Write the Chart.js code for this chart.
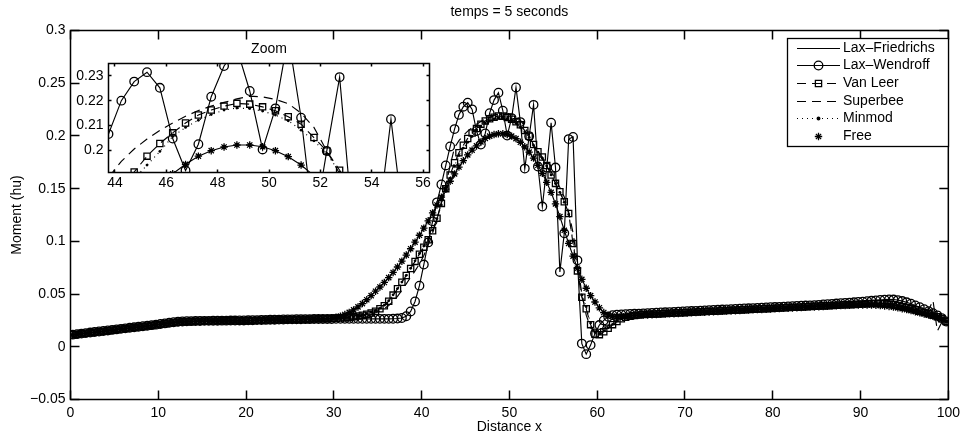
<!DOCTYPE html>
<html><head><meta charset="utf-8">
<script src="https://cdn.jsdelivr.net/npm/chart.js@4.4.1/dist/chart.umd.min.js"></script>
<style>
html,body{margin:0;padding:0;background:#fff;}
#wrap{position:relative;width:965px;height:441px;overflow:hidden;}
#main{position:absolute;left:0;top:0;}
#zoom{position:absolute;left:72px;top:36px;}
</style></head><body>
<div id="wrap"><canvas id="main" width="965" height="441"></canvas><canvas id="zoom" width="380" height="164"></canvas></div>
<script>
// ---------- data ----------
const titleText = 'temps = 5 seconds';
const zoomTitle = 'Zoom';
const xLabel = 'Distance x';
const yLabel = 'Moment (hu)';
const seriesNames = ['Lax\u2013Friedrichs', 'Lax\u2013Wendroff', 'Van Leer', 'Superbee', 'Minmod', 'Free'];
const xTicks = [0, 10, 20, 30, 40, 50, 60, 70, 80, 90, 100];
const yTicks = [-0.05, 0, 0.05, 0.1, 0.15, 0.2, 0.25, 0.3];
const zoomXTicks = [44, 46, 48, 50, 52, 54, 56];
const zoomYTicks = [0.2, 0.21, 0.22, 0.23];

const distance = [
0.25,0.75,1.25,1.75,2.25,2.75,3.25,3.75,4.25,4.75,
5.25,5.75,6.25,6.75,7.25,7.75,8.25,8.75,9.25,9.75,
10.25,10.75,11.25,11.75,12.25,12.75,13.25,13.75,14.25,14.75,
15.25,15.75,16.25,16.75,17.25,17.75,18.25,18.75,19.25,19.75,
20.25,20.75,21.25,21.75,22.25,22.75,23.25,23.75,24.25,24.75,
25.25,25.75,26.25,26.75,27.25,27.75,28.25,28.75,29.25,29.75,
30.25,30.75,31.25,31.75,32.25,32.75,33.25,33.75,34.25,34.75,
35.25,35.75,36.25,36.75,37.25,37.75,38.25,38.75,39.25,39.75,
40.25,40.75,41.25,41.75,42.25,42.75,43.25,43.75,44.25,44.75,
45.25,45.75,46.25,46.75,47.25,47.75,48.25,48.75,49.25,49.75,
50.25,50.75,51.25,51.75,52.25,52.75,53.25,53.75,54.25,54.75,
55.25,55.75,56.25,56.75,57.25,57.75,58.25,58.75,59.25,59.75,
60.25,60.75,61.25,61.75,62.25,62.75,63.25,63.75,64.25,64.75,
65.25,65.75,66.25,66.75,67.25,67.75,68.25,68.75,69.25,69.75,
70.25,70.75,71.25,71.75,72.25,72.75,73.25,73.75,74.25,74.75,
75.25,75.75,76.25,76.75,77.25,77.75,78.25,78.75,79.25,79.75,
80.25,80.75,81.25,81.75,82.25,82.75,83.25,83.75,84.25,84.75,
85.25,85.75,86.25,86.75,87.25,87.75,88.25,88.75,89.25,89.75,
90.25,90.75,91.25,91.75,92.25,92.75,93.25,93.75,94.25,94.75,
95.25,95.75,96.25,96.75,97.25,97.75,98.25,98.75,99.25,99.75];

const momentLaxFriedrichs = [
0.0112,0.0117,0.0122,0.0127,0.0132,0.0137,0.0142,0.0147,0.0152,0.0157,
0.0162,0.0167,0.0172,0.0177,0.0182,0.0187,0.0192,0.0197,0.0202,0.0207,
0.0212,0.0217,0.0222,0.0227,0.0231,0.0234,0.0237,0.0239,0.0240,0.0241,
0.0242,0.0242,0.0243,0.0243,0.0244,0.0244,0.0245,0.0245,0.0246,0.0246,
0.0247,0.0248,0.0249,0.0250,0.0251,0.0252,0.0253,0.0254,0.0255,0.0256,
0.0257,0.0258,0.0259,0.0260,0.0261,0.0262,0.0264,0.0266,0.0268,0.0273,
0.0280,0.0291,0.0306,0.0326,0.0350,0.0378,0.0410,0.0446,0.0485,0.0527,
0.0567,0.0610,0.0656,0.0705,0.0757,0.0812,0.0870,0.0930,0.0993,0.1058,
0.1125,0.1195,0.1270,0.1345,0.1420,0.1495,0.1570,0.1640,0.1705,0.1765,
0.1820,0.1865,0.1905,0.1943,0.1976,0.1998,0.2013,0.2021,0.2021,0.2014,
0.1998,0.1974,0.1940,0.1897,0.1847,0.1790,0.1722,0.1645,0.1560,0.1465,
0.1355,0.1235,0.1105,0.0980,0.0860,0.0745,0.0640,0.0555,0.0485,0.0425,
0.0370,0.0325,0.0300,0.0290,0.0288,0.0290,0.0292,0.0294,0.0296,0.0298,
0.0300,0.0302,0.0304,0.0306,0.0308,0.0310,0.0312,0.0314,0.0316,0.0318,
0.0320,0.0322,0.0324,0.0326,0.0328,0.0330,0.0332,0.0334,0.0336,0.0338,
0.0340,0.0342,0.0344,0.0346,0.0348,0.0350,0.0352,0.0354,0.0356,0.0358,
0.0360,0.0362,0.0364,0.0366,0.0368,0.0370,0.0372,0.0374,0.0376,0.0378,
0.0380,0.0382,0.0384,0.0386,0.0388,0.0390,0.0392,0.0394,0.0395,0.0396,
0.0397,0.0397,0.0396,0.0394,0.0391,0.0387,0.0382,0.0376,0.0369,0.0361,
0.0352,0.0343,0.0333,0.0322,0.0311,0.0300,0.0289,0.0277,0.0262,0.0240];

const momentLaxWendroff = [
0.0115,0.0120,0.0125,0.0130,0.0135,0.0140,0.0145,0.0150,0.0155,0.0160,
0.0165,0.0170,0.0175,0.0180,0.0185,0.0190,0.0195,0.0200,0.0205,0.0210,
0.0216,0.0222,0.0228,0.0233,0.0237,0.0240,0.0242,0.0243,0.0244,0.0245,
0.0246,0.0246,0.0247,0.0247,0.0248,0.0248,0.0249,0.0249,0.0250,0.0250,
0.0251,0.0252,0.0253,0.0254,0.0255,0.0256,0.0257,0.0258,0.0259,0.0260,
0.0260,0.0261,0.0261,0.0262,0.0262,0.0263,0.0263,0.0264,0.0264,0.0264,
0.0265,0.0265,0.0265,0.0265,0.0265,0.0265,0.0265,0.0265,0.0265,0.0265,
0.0265,0.0265,0.0265,0.0266,0.0268,0.0273,0.0290,0.0335,0.0430,0.0580,
0.0780,0.0990,0.1190,0.1370,0.1540,0.1720,0.1900,0.2065,0.2200,0.2277,
0.2315,0.2252,0.2047,0.1918,0.2024,0.2216,0.2340,0.2410,0.2239,0.2003,
0.2169,0.2460,0.2131,0.1690,0.1997,0.2295,0.1710,0.1330,0.1700,0.2125,
0.1700,0.0710,0.1076,0.1970,0.1990,0.0820,0.0030,-0.0070,0.0016,0.0127,
0.0206,0.0250,0.0285,0.0300,0.0305,0.0307,0.0309,0.0311,0.0313,0.0315,
0.0317,0.0319,0.0321,0.0323,0.0325,0.0327,0.0329,0.0331,0.0333,0.0335,
0.0337,0.0339,0.0341,0.0343,0.0345,0.0347,0.0349,0.0351,0.0353,0.0355,
0.0357,0.0359,0.0361,0.0363,0.0365,0.0367,0.0369,0.0371,0.0373,0.0375,
0.0377,0.0379,0.0381,0.0383,0.0385,0.0387,0.0389,0.0391,0.0393,0.0395,
0.0398,0.0401,0.0404,0.0407,0.0410,0.0413,0.0416,0.0419,0.0422,0.0425,
0.0428,0.0432,0.0436,0.0440,0.0444,0.0447,0.0449,0.0448,0.0443,0.0434,
0.0422,0.0408,0.0392,0.0375,0.0357,0.0338,0.0318,0.0298,0.0272,0.0240];

const momentVanLeer = [
0.0113,0.0118,0.0123,0.0128,0.0133,0.0138,0.0143,0.0148,0.0153,0.0158,
0.0163,0.0168,0.0173,0.0178,0.0183,0.0188,0.0193,0.0198,0.0203,0.0208,
0.0213,0.0219,0.0225,0.0230,0.0234,0.0237,0.0239,0.0241,0.0242,0.0243,
0.0244,0.0244,0.0245,0.0245,0.0246,0.0246,0.0247,0.0247,0.0248,0.0248,
0.0249,0.0250,0.0251,0.0252,0.0253,0.0254,0.0255,0.0256,0.0257,0.0258,
0.0259,0.0260,0.0261,0.0262,0.0263,0.0264,0.0265,0.0266,0.0267,0.0268,
0.0270,0.0272,0.0275,0.0279,0.0284,0.0291,0.0299,0.0309,0.0321,0.0337,
0.0360,0.0390,0.0432,0.0490,0.0550,0.0612,0.0676,0.0742,0.0810,0.0878,
0.0945,0.1015,0.1100,0.1220,0.1360,0.1500,0.1630,0.1745,0.1840,0.1912,
0.1976,0.2027,0.2070,0.2110,0.2142,0.2162,0.2178,0.2189,0.2186,0.2175,
0.2159,0.2135,0.2105,0.2051,0.1997,0.1919,0.1850,0.1800,0.1720,0.1630,
0.1550,0.1470,0.1376,0.1265,0.0980,0.0720,0.0470,0.0360,0.0210,0.0120,
0.0115,0.0143,0.0175,0.0210,0.0240,0.0265,0.0280,0.0290,0.0297,0.0302,
0.0306,0.0308,0.0310,0.0312,0.0314,0.0316,0.0318,0.0320,0.0322,0.0324,
0.0326,0.0328,0.0330,0.0332,0.0334,0.0336,0.0338,0.0340,0.0342,0.0344,
0.0346,0.0348,0.0350,0.0352,0.0354,0.0356,0.0358,0.0360,0.0362,0.0364,
0.0366,0.0368,0.0370,0.0372,0.0374,0.0376,0.0378,0.0380,0.0382,0.0384,
0.0386,0.0388,0.0390,0.0392,0.0394,0.0396,0.0398,0.0400,0.0402,0.0404,
0.0406,0.0408,0.0410,0.0411,0.0411,0.0409,0.0405,0.0399,0.0391,0.0382,
0.0372,0.0361,0.0350,0.0338,0.0326,0.0313,0.0300,0.0285,0.0265,0.0240];

const momentSuperbee = [
0.0113,0.0118,0.0123,0.0128,0.0133,0.0138,0.0143,0.0148,0.0153,0.0158,
0.0163,0.0168,0.0173,0.0178,0.0183,0.0188,0.0193,0.0198,0.0203,0.0208,
0.0213,0.0219,0.0225,0.0230,0.0234,0.0237,0.0239,0.0241,0.0242,0.0243,
0.0244,0.0244,0.0245,0.0245,0.0246,0.0246,0.0247,0.0247,0.0248,0.0248,
0.0249,0.0250,0.0251,0.0252,0.0253,0.0254,0.0255,0.0256,0.0257,0.0258,
0.0259,0.0260,0.0261,0.0262,0.0263,0.0264,0.0265,0.0266,0.0267,0.0268,
0.0269,0.0270,0.0272,0.0275,0.0279,0.0284,0.0291,0.0300,0.0311,0.0324,
0.0340,0.0362,0.0392,0.0430,0.0478,0.0535,0.0597,0.0660,0.0720,0.0785,
0.0865,0.0965,0.1080,0.1210,0.1360,0.1530,0.1720,0.1890,0.1955,0.2005,
0.2045,0.2080,0.2110,0.2137,0.2160,0.2178,0.2193,0.2207,0.2218,0.2215,
0.2205,0.2188,0.2150,0.2092,0.1997,0.1905,0.1830,0.1780,0.1720,0.1660,
0.1590,0.1510,0.1420,0.1280,0.1080,0.0800,0.0500,0.0300,0.0180,0.0140,
0.0145,0.0170,0.0200,0.0235,0.0260,0.0275,0.0286,0.0294,0.0300,0.0304,
0.0306,0.0308,0.0310,0.0312,0.0314,0.0316,0.0318,0.0320,0.0322,0.0324,
0.0326,0.0328,0.0330,0.0332,0.0334,0.0336,0.0338,0.0340,0.0342,0.0344,
0.0346,0.0348,0.0350,0.0352,0.0354,0.0356,0.0358,0.0360,0.0362,0.0364,
0.0366,0.0368,0.0370,0.0372,0.0374,0.0376,0.0378,0.0380,0.0382,0.0384,
0.0386,0.0388,0.0390,0.0392,0.0394,0.0396,0.0398,0.0400,0.0402,0.0404,
0.0406,0.0408,0.0410,0.0411,0.0411,0.0409,0.0405,0.0399,0.0391,0.0382,
0.0372,0.0361,0.0350,0.0338,0.0326,0.0345,0.0440,0.0150,0.0230,0.0220];

const momentMinmod = [
0.0113,0.0118,0.0123,0.0128,0.0133,0.0138,0.0143,0.0148,0.0153,0.0158,
0.0163,0.0168,0.0173,0.0178,0.0183,0.0188,0.0193,0.0198,0.0203,0.0208,
0.0213,0.0219,0.0225,0.0230,0.0234,0.0237,0.0239,0.0241,0.0242,0.0243,
0.0244,0.0244,0.0245,0.0245,0.0246,0.0246,0.0247,0.0247,0.0248,0.0248,
0.0249,0.0250,0.0251,0.0252,0.0253,0.0254,0.0255,0.0256,0.0257,0.0258,
0.0259,0.0260,0.0261,0.0262,0.0263,0.0264,0.0265,0.0266,0.0267,0.0268,
0.0271,0.0274,0.0278,0.0283,0.0289,0.0297,0.0306,0.0317,0.0330,0.0345,
0.0365,0.0395,0.0437,0.0493,0.0552,0.0614,0.0678,0.0745,0.0815,0.0885,
0.0955,0.1025,0.1105,0.1215,0.1345,0.1475,0.1600,0.1715,0.1815,0.1885,
0.1940,0.1995,0.2055,0.2092,0.2121,0.2144,0.2162,0.2170,0.2168,0.2158,
0.2142,0.2119,0.2081,0.2038,0.1987,0.1910,0.1845,0.1790,0.1715,0.1630,
0.1548,0.1465,0.1370,0.1255,0.1000,0.0740,0.0490,0.0380,0.0225,0.0135,
0.0125,0.0150,0.0180,0.0212,0.0242,0.0266,0.0281,0.0291,0.0298,0.0303,
0.0306,0.0308,0.0310,0.0312,0.0314,0.0316,0.0318,0.0320,0.0322,0.0324,
0.0326,0.0328,0.0330,0.0332,0.0334,0.0336,0.0338,0.0340,0.0342,0.0344,
0.0346,0.0348,0.0350,0.0352,0.0354,0.0356,0.0358,0.0360,0.0362,0.0364,
0.0366,0.0368,0.0370,0.0372,0.0374,0.0376,0.0378,0.0380,0.0382,0.0384,
0.0386,0.0388,0.0390,0.0392,0.0394,0.0396,0.0398,0.0400,0.0402,0.0404,
0.0406,0.0408,0.0410,0.0411,0.0411,0.0409,0.0405,0.0399,0.0391,0.0382,
0.0372,0.0361,0.0350,0.0338,0.0326,0.0313,0.0300,0.0285,0.0265,0.0240];

const momentFree = [
0.0112,0.0117,0.0122,0.0127,0.0132,0.0137,0.0142,0.0147,0.0152,0.0157,
0.0162,0.0167,0.0172,0.0177,0.0182,0.0187,0.0192,0.0197,0.0202,0.0207,
0.0212,0.0217,0.0222,0.0227,0.0231,0.0234,0.0237,0.0239,0.0240,0.0241,
0.0242,0.0242,0.0243,0.0243,0.0244,0.0244,0.0245,0.0245,0.0246,0.0246,
0.0247,0.0248,0.0249,0.0250,0.0251,0.0252,0.0253,0.0254,0.0255,0.0256,
0.0257,0.0258,0.0259,0.0260,0.0261,0.0262,0.0264,0.0266,0.0268,0.0273,
0.0280,0.0291,0.0306,0.0326,0.0350,0.0378,0.0410,0.0446,0.0485,0.0527,
0.0567,0.0610,0.0656,0.0705,0.0757,0.0812,0.0870,0.0930,0.0993,0.1058,
0.1125,0.1195,0.1270,0.1345,0.1420,0.1495,0.1570,0.1640,0.1705,0.1765,
0.1820,0.1865,0.1905,0.1943,0.1976,0.1998,0.2013,0.2021,0.2021,0.2014,
0.1998,0.1974,0.1940,0.1897,0.1847,0.1790,0.1722,0.1645,0.1560,0.1465,
0.1355,0.1235,0.1105,0.0980,0.0860,0.0745,0.0640,0.0555,0.0485,0.0425,
0.0370,0.0325,0.0300,0.0290,0.0288,0.0290,0.0292,0.0294,0.0296,0.0298,
0.0300,0.0302,0.0304,0.0306,0.0308,0.0310,0.0312,0.0314,0.0316,0.0318,
0.0320,0.0322,0.0324,0.0326,0.0328,0.0330,0.0332,0.0334,0.0336,0.0338,
0.0340,0.0342,0.0344,0.0346,0.0348,0.0350,0.0352,0.0354,0.0356,0.0358,
0.0360,0.0362,0.0364,0.0366,0.0368,0.0370,0.0372,0.0374,0.0376,0.0378,
0.0380,0.0382,0.0384,0.0386,0.0388,0.0390,0.0392,0.0394,0.0395,0.0396,
0.0397,0.0397,0.0396,0.0394,0.0391,0.0387,0.0382,0.0376,0.0369,0.0361,
0.0352,0.0343,0.0333,0.0322,0.0311,0.0300,0.0289,0.0277,0.0262,0.0240];

// ---------- rendering ----------
const FONT = "'Liberation Sans', Arial, Helvetica, sans-serif";
Chart.defaults.font.family = FONT;
Chart.defaults.font.size = 14;
Chart.defaults.color = '#000';

const fmt = v => String(v).replace('-', '\u2212');
const LW = 1.15;   // line width of curves
const MW = 1.3;    // marker stroke width

function makeDatasets() {
  const NONE = 'rgba(0,0,0,0)';
  return [
    { label: seriesNames[0], data: momentLaxFriedrichs, borderColor: '#000', borderWidth: LW, pointRadius: 0, order: 6 },
    { label: seriesNames[1], data: momentLaxWendroff, borderColor: '#000', borderWidth: LW,
      pointStyle: 'circle', pointRadius: 4.3, pointBorderWidth: MW, pointBorderColor: '#000', pointBackgroundColor: NONE, order: 5 },
    { label: seriesNames[2], data: momentVanLeer, borderColor: '#000', borderWidth: LW, borderDash: [9, 6],
      pointStyle: 'rect', pointRadius: 4.4, pointBorderWidth: MW, pointBorderColor: '#000', pointBackgroundColor: NONE, order: 4 },
    { label: seriesNames[3], data: momentSuperbee, borderColor: '#000', borderWidth: LW, borderDash: [9, 6], pointRadius: 0, order: 3 },
    { label: seriesNames[4], data: momentMinmod, borderColor: '#000', borderWidth: LW, borderDash: [1, 4],
      pointStyle: 'circle', pointRadius: 1.4, pointBorderWidth: 0, pointBackgroundColor: '#000', order: 2 },
    { label: seriesNames[5], data: momentFree, showLine: false, borderColor: '#000',
      pointStyle: 'star', pointRadius: 3.7, pointBorderWidth: MW, pointBorderColor: '#000', order: 1 }
  ];
}

const boxAndTicks = {
  id: 'boxAndTicks',
  beforeDatasetsDraw(chart, args, o) {
    if (o.fill) {
      const a = chart.chartArea, ctx = chart.ctx;
      ctx.save(); ctx.fillStyle = '#fff'; ctx.fillRect(a.left, a.top, a.right - a.left, a.bottom - a.top); ctx.restore();
    }
  },
  afterDatasetsDraw(chart, args, o) {
    const {ctx, chartArea: a, scales: {x, y}} = chart;
    const L = o.len;
    ctx.save();
    ctx.strokeStyle = '#000'; ctx.lineWidth = o.width; ctx.setLineDash([]);
    ctx.beginPath();
    x.ticks.forEach(t => {
      const p = Math.round(x.getPixelForValue(t.value) - 0.5) + 0.5;
      ctx.moveTo(p, a.bottom); ctx.lineTo(p, a.bottom - L);
      ctx.moveTo(p, a.top); ctx.lineTo(p, a.top + L);
    });
    y.ticks.forEach(t => {
      const p = Math.round(y.getPixelForValue(t.value) - 0.5) + 0.5;
      ctx.moveTo(a.left, p); ctx.lineTo(a.left + L, p);
      ctx.moveTo(a.right, p); ctx.lineTo(a.right - L, p);
    });
    ctx.stroke();
    ctx.strokeRect(a.left, a.top, a.right - a.left, a.bottom - a.top);
    ctx.restore();
  }
};

function drawMarker(ctx, ds, x, y) {
  const r = ds.pointRadius || 0;
  if (!r) return;
  ctx.save();
  ctx.setLineDash([]);
  ctx.strokeStyle = '#000'; ctx.fillStyle = '#000'; ctx.lineWidth = ds.pointBorderWidth || 0;
  ctx.beginPath();
  if (ds.pointStyle === 'rect') {
    const s = Math.SQRT1_2 * r;
    ctx.rect(x - s, y - s, 2 * s, 2 * s);
    ctx.stroke();
  } else if (ds.pointStyle === 'star') {
    const d = r * Math.SQRT1_2;
    ctx.moveTo(x - r, y); ctx.lineTo(x + r, y);
    ctx.moveTo(x, y - r); ctx.lineTo(x, y + r);
    ctx.moveTo(x - d, y - d); ctx.lineTo(x + d, y + d);
    ctx.moveTo(x - d, y + d); ctx.lineTo(x + d, y - d);
    ctx.stroke();
  } else {
    ctx.arc(x, y, r, 0, Math.PI * 2);
    if (ds.pointBackgroundColor === '#000') ctx.fill();
    if (ctx.lineWidth > 0) ctx.stroke();
  }
  ctx.restore();
}

const matlabLegend = {
  id: 'matlabLegend',
  afterDraw(chart, args, o) {
    if (!o.show) return;
    const ctx = chart.ctx;
    ctx.save();
    ctx.fillStyle = '#fff';
    ctx.fillRect(o.left, o.top, o.right - o.left, o.bottom - o.top);
    ctx.strokeStyle = '#000'; ctx.lineWidth = 1.3;
    ctx.strokeRect(o.left + 0.5, o.top + 0.5, o.right - o.left, o.bottom - o.top);
    chart.data.datasets.forEach((ds, i) => {
      const y = Math.round(o.top + o.first + o.rowH * i) + 0.5;
      ctx.lineWidth = LW;
      if (ds.showLine !== false) {
        ctx.setLineDash(ds.borderDash || []);
        ctx.beginPath(); ctx.moveTo(o.x0, y); ctx.lineTo(o.x1, y); ctx.stroke();
        ctx.setLineDash([]);
      }
      drawMarker(ctx, ds, (o.x0 + o.x1) / 2, y);
      ctx.fillStyle = '#000';
      ctx.font = '14px ' + FONT;
      ctx.textBaseline = 'middle'; ctx.textAlign = 'left';
      ctx.fillText(ds.label, o.tx, y);
    });
    ctx.restore();
  }
};

function axisOpts(ticksArr, min, max, fitProp, fitVal, pad, title) {
  return {
    type: 'linear', min, max,
    grid: { display: false, drawTicks: false },
    border: { display: false },
    afterBuildTicks: s => { s.ticks = ticksArr.map(v => ({ value: v })); },
    afterFit: s => { s[fitProp] = fitVal; },
    ticks: { padding: pad, autoSkip: false, maxRotation: 0, minRotation: 0, callback: v => fmt(v) },
    title: title || { display: false }
  };
}

new Chart(document.getElementById('main'), {
  type: 'line',
  data: { labels: distance, datasets: makeDatasets() },
  options: {
    responsive: false, animation: false, devicePixelRatio: 1,
    events: [],
    layout: { padding: { left: 0, right: 14.5, top: 0, bottom: 0 } },
    scales: {
      x: axisOpts(xTicks, 0, 100, 'height', 41.5, 5,
        { display: true, text: xLabel, padding: { top: 0, bottom: 5.6 } }),
      y: axisOpts(yTicks, -0.05, 0.3, 'width', 70.5, 5,
        { display: true, text: yLabel, padding: { top: 8.6, bottom: 0 } })
    },
    plugins: {
      legend: { display: false },
      tooltip: { enabled: false },
      title: { display: true, text: titleText, fullSize: false, font: { size: 14, weight: 'normal' }, padding: { top: 3.7, bottom: 10 } },
      boxAndTicks: { len: 9, fill: false, width: 1.5 },
      matlabLegend: { show: true, left: 787, top: 38, right: 948, bottom: 146, first: 9.5, rowH: 17.7, x0: 797, x1: 840, tx: 843 }
    }
  },
  plugins: [boxAndTicks, matlabLegend]
});

new Chart(document.getElementById('zoom'), {
  type: 'line',
  data: { labels: distance, datasets: makeDatasets() },
  options: {
    responsive: false, animation: false, devicePixelRatio: 1,
    events: [],
    layout: { padding: { left: 0, right: 22.5, top: 0, bottom: 0 } },
    scales: {
      x: axisOpts(zoomXTicks, 43.75, 56.25, 'height', 27.5, 2.6),
      y: axisOpts(zoomYTicks, 0.191, 0.235, 'width', 36.5, 5)
    },
    plugins: {
      legend: { display: false },
      tooltip: { enabled: false },
      title: { display: true, text: zoomTitle, fullSize: false, font: { size: 14, weight: 'normal' }, padding: { top: 4.5, bottom: 6.2 } },
      boxAndTicks: { len: 3, fill: true, width: 1.5 },
      matlabLegend: { show: false }
    }
  },
  plugins: [boxAndTicks, matlabLegend]
});
</script></body></html>
